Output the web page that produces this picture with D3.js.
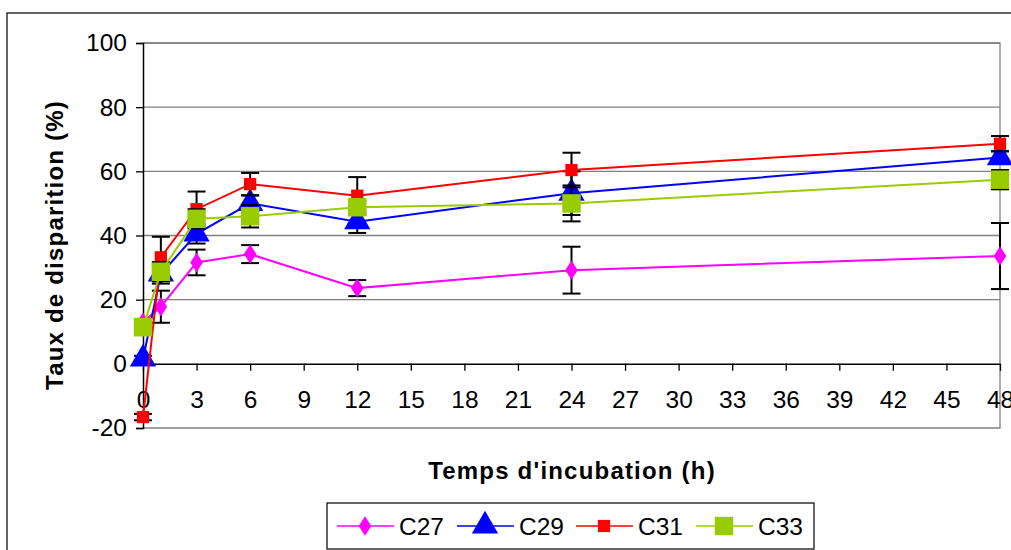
<!DOCTYPE html>
<html><head><meta charset="utf-8">
<script src="https://cdn.jsdelivr.net/npm/d3@7"></script>
<style>body{margin:0;background:#fff}svg{display:block}text{font-family:"Liberation Sans",Arial,sans-serif}</style>
</head><body><svg id="c" width="1011" height="550"></svg>
<script>
const hours = [0, 1, 3, 6, 12, 24, 48];
const seriesNames = ["C27", "C29", "C31", "C33"];
const c27 = [13, 17.8, 31.6, 34.2, 23.6, 29.2, 33.6];
const c29 = [1.5, 28, 40.5, 50, 44.3, 53.2, 64.3];
const c31 = [-16.6, 33.2, 48.2, 56, 52.4, 60.4, 68.6];
const c33 = [11.4, 28.7, 45.2, 46, 48.8, 50, 57.4];
const c27err = [1, 5, 4, 2.8, 2.5, 7.3, 10.3];
const c29err = [1, 3, 3, 2.5, 3.5, 6.8, 2];
const c31err = [1, 6.4, 5.5, 3.5, 5.8, 5.4, 2.4];
const c33err = [1, 3, 3, 3.5, 2, 5.6, 3];
const xTicks = d3.range(0, 49, 3);
const yTicks = [-20, 0, 20, 40, 60, 80, 100];
const colors = ["#ff00ff", "#0000ff", "#ff0000", "#99cc00"];

const svg = d3.select("#c");
const m = {l: 143, r: 1000, t: 43, b: 428};
const x = d3.scaleLinear().domain([0, 48]).range([m.l, m.r]);
const y = d3.scaleLinear().domain([-20, 100]).range([m.b, m.t]);
const FF = '"Liberation Sans",Arial,sans-serif';

// outer frame
svg.append("rect").attr("x", 7).attr("y", 13).attr("width", 1010).attr("height", 560)
  .attr("fill", "#fff").attr("stroke", "#000").attr("stroke-width", 1.2);

// gridlines
svg.append("g").selectAll("line").data([20, 40, 60, 80, 100]).join("line")
  .attr("x1", m.l).attr("x2", m.r).attr("y1", d => y(d)).attr("y2", d => y(d))
  .attr("stroke", "#808080").attr("stroke-width", 1.3);
// plot border right/bottom
svg.append("path").attr("d", `M${m.l},${m.t}H${m.r}V${m.b}H${m.l}`)
  .attr("fill", "none").attr("stroke", "#808080").attr("stroke-width", 1.3);

// y axis
const ya = svg.append("g").attr("transform", `translate(${m.l},0)`)
  .call(d3.axisLeft(y).tickValues(yTicks).tickSize(7).tickPadding(9).tickFormat(d => String(d)));
ya.select(".domain").attr("stroke", "#000").attr("stroke-width", 1.5);
ya.selectAll(".tick line").attr("stroke", "#000").attr("stroke-width", 1.3);
ya.selectAll("text").attr("font-size", 24.5).attr("fill", "#000").attr("font-family", FF);

// x axis at y=0
const xa = svg.append("g").attr("transform", `translate(0,${y(0)})`)
  .call(d3.axisBottom(x).tickValues(xTicks).tickSize(7).tickPadding(20).tickSizeOuter(0).tickFormat(d => String(d)));
xa.select(".domain").attr("stroke", "#000").attr("stroke-width", 1.5);
xa.selectAll(".tick line").attr("stroke", "#000").attr("stroke-width", 1.3);
xa.selectAll("text").attr("font-size", 24.5).attr("fill", "#000").attr("font-family", FF);

// titles
svg.append("text").attr("x", 572).attr("y", 479).attr("text-anchor", "middle")
  .attr("font-size", 24).attr("letter-spacing", 1.2).attr("font-weight", "bold").text("Temps d'incubation (h)");
svg.append("text").attr("transform", "translate(63,245) rotate(-90)").attr("text-anchor", "middle")
  .attr("font-size", 24).attr("letter-spacing", 1.2).attr("font-weight", "bold").text("Taux de disparition (%)");

const vals = [c27, c29, c31, c33];
const errs = [c27err, c29err, c31err, c33err];
const shapes = [d3.symbolDiamond, d3.symbolTriangle, d3.symbolSquare, d3.symbolSquare];
const sizes = [150, 300, 150, 340];

function marker(sel, i, cx, cy) {
  let s = d3.symbol().type(shapes[i]).size(sizes[i])();
  let t = `translate(${cx},${cy})`;
  if (i === 0) t += " scale(0.95,0.85)";
  sel.append("path").attr("d", s).attr("transform", t).attr("fill", colors[i]);
}

const line = d3.line().x(d => x(d[0])).y(d => y(d[1]));
vals.forEach((v, i) => {
  const g = svg.append("g");
  const pts = hours.map((h, j) => [h, v[j], errs[i][j]]);
  pts.forEach(p => {
    const eg = g.append("g").attr("stroke", "#000").attr("stroke-width", 2);
    eg.append("line").attr("x1", x(p[0])).attr("x2", x(p[0])).attr("y1", y(p[1] - p[2])).attr("y2", y(p[1] + p[2]));
    [p[1] - p[2], p[1] + p[2]].forEach(e => eg.append("line").attr("x1", x(p[0]) - 9).attr("x2", x(p[0]) + 9).attr("y1", y(e)).attr("y2", y(e)));
  });
  g.append("path").datum(pts).attr("d", line).attr("fill", "none").attr("stroke", colors[i]).attr("stroke-width", 2);
  pts.forEach(p => marker(g, i, x(p[0]), y(p[1])));
});

// legend
const lg = svg.append("g");
lg.append("rect").attr("x", 327).attr("y", 503).attr("width", 487).attr("height", 46)
  .attr("fill", "#fff").attr("stroke", "#000").attr("stroke-width", 1.2);
const lx = [337, 457, 576, 696];
seriesNames.forEach((n, i) => {
  const cy = 526;
  lg.append("line").attr("x1", lx[i]).attr("x2", lx[i] + 57).attr("y1", cy).attr("y2", cy)
    .attr("stroke", colors[i]).attr("stroke-width", 1.5);
  marker(lg, i, lx[i] + 28, cy);
  lg.append("text").attr("x", lx[i] + 62).attr("y", cy + 9).attr("font-size", 24.5).attr("font-family", FF).text(n);
});
</script></body></html>
